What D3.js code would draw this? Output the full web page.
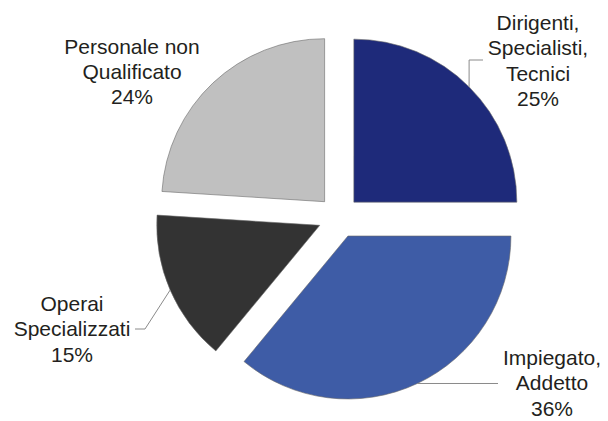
<!DOCTYPE html>
<html>
<head>
<meta charset="utf-8">
<script src="https://cdn.jsdelivr.net/npm/d3@7"></script>
<style>
  html, body { margin: 0; padding: 0; background: #fff; }
  svg { display: block; }
</style>
</head>
<body>
<svg id="chart" width="608" height="421"></svg>
<script>
// ---- data ----
const categories = [
  ["Dirigenti,", "Specialisti,", "Tecnici"],
  ["Impiegato,", "Addetto"],
  ["Operai", "Specializzati"],
  ["Personale non", "Qualificato"]
];
const values = [25, 36, 15, 24];
const percentLabels = ["25%", "36%", "15%", "24%"];
const colors = ["#1e2a7a", "#3e5ca6", "#333333", "#c0c0c0"];

// ---- layout ----
const W = 608, H = 421;
const cx = 339, cy = 217, R = 163, explode = 21;
const lineH = 25.4;
// label anchor (centre x, first baseline y) and leader type per slice
const labelLayout = [
  { x: 538, y: 30,   leader: "up",    tickX: 483, tickY: 60 },
  { x: 552, y: 365,  leader: "horiz", endX: 498 },
  { x: 72,  y: 311,  leader: "diag",  elbowX: 145, elbowY: 329, endX: 135 },
  { x: 132, y: 53.5, leader: "none" }
];

const svg = d3.select("#chart");

const pie = d3.pie().sort(null).value(d => d).startAngle(0).endAngle(2 * Math.PI);
const arcs = pie(values);
const arcGen = d3.arc().innerRadius(0).outerRadius(R);

const mid = a => (a.startAngle + a.endAngle) / 2;
const off = a => [explode * Math.sin(mid(a)), -explode * Math.cos(mid(a))];

const g = svg.append("g").attr("transform", `translate(${cx},${cy})`);

g.selectAll("path.slice")
  .data(arcs)
  .join("path")
  .attr("class", "slice")
  .attr("d", arcGen)
  .attr("transform", d => { const o = off(d); return `translate(${o[0]},${o[1]})`; })
  .attr("fill", (d, i) => colors[i])
  .attr("stroke", "#6a6a6a")
  .attr("stroke-width", 0.6);

// leader lines
arcs.forEach((a, i) => {
  const L = labelLayout[i];
  if (L.leader === "none") return;
  const o = off(a);
  const m = mid(a);
  const px = cx + o[0] + R * Math.sin(m);
  const py = cy + o[1] - R * Math.cos(m);
  let pts;
  if (L.leader === "up") pts = [[px, py], [px, L.tickY], [L.tickX, L.tickY]];
  else if (L.leader === "horiz") pts = [[px, py], [L.endX, py]];
  else pts = [[px, py], [L.elbowX, L.elbowY], [L.endX, L.elbowY]];
  svg.append("path")
    .attr("d", d3.line()(pts))
    .attr("fill", "none")
    .attr("stroke", "#8a8a8a")
    .attr("stroke-width", 1);
});

// labels
arcs.forEach((a, i) => {
  const L = labelLayout[i];
  const lines = categories[i].concat([percentLabels[i]]);
  const t = svg.append("text")
    .attr("text-anchor", "middle")
    .attr("font-family", "'Liberation Sans', Arial, sans-serif")
    .attr("font-size", 21)
    .attr("fill", "#231f20");
  lines.forEach((s, k) => {
    t.append("tspan").attr("x", L.x).attr("y", L.y + k * lineH).text(s);
  });
});
</script>
</body>
</html>
